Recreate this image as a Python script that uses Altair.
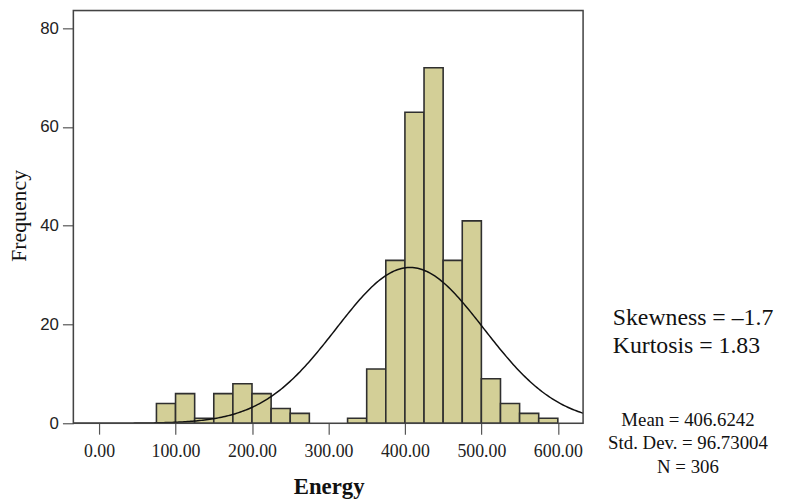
import altair as alt
import numpy as np
import pandas as pd

# Histogram bins (Energy), width 25
bin_start = [75, 100, 125, 150, 175, 200, 225, 250, 275, 300,
             325, 350, 375, 400, 425, 450, 475, 500, 525, 550, 575]
counts = [4, 6, 1, 6, 8, 6, 3, 2, 0, 0,
          1, 11, 33, 63, 72, 33, 41, 9, 4, 2, 1]
BIN_WIDTH = 25

MEAN = 406.6242
SD = 96.73004
N = 306

x_ticks = [0, 100, 200, 300, 400, 500, 600]
y_ticks = [0, 20, 40, 60, 80]

stats_big = ["Skewness = \u20131.7", "Kurtosis = 1.83"]
stats_small = [f"Mean = {MEAN}", f"Std. Dev. = {SD:.5f}", f"N = {N}"]

X_DOMAIN = [-33.7, 633]
Y_DOMAIN = [0, 83.6]
W, H = 515, 417

bars_df = pd.DataFrame({
    "start": bin_start,
    "end": [b + BIN_WIDTH for b in bin_start],
    "count": counts,
})
bars_df = bars_df[bars_df["count"] > 0]

# fitted normal curve from the stated mean / sd / N
xs = np.linspace(X_DOMAIN[0], X_DOMAIN[1], 300)
ys = N * BIN_WIDTH / (SD * np.sqrt(2 * np.pi)) * np.exp(-0.5 * ((xs - MEAN) / SD) ** 2)
curve_df = pd.DataFrame({"x": xs, "y": ys})

x_scale = alt.Scale(domain=X_DOMAIN, nice=False, zero=False)
y_scale = alt.Scale(domain=Y_DOMAIN, nice=False)

x_axis = alt.Axis(
    values=x_ticks, format=".2f", title="Energy", grid=False, domain=False,
    tickSize=11, tickColor="#555", tickWidth=1.2,
    labelFont="Liberation Serif", labelFontSize=18, labelColor="#222", labelPadding=9,
    titleFont="Liberation Serif", titleFontSize=23, titleFontWeight="bold", titleColor="#111",
    titleX=258, titleY=71, titleBaseline="alphabetic", titleAlign="center",
)
y_axis = alt.Axis(
    values=y_ticks, title="Frequency", grid=False, domain=False,
    tickSize=11, tickColor="#555", tickWidth=1.2,
    labelFont="Liberation Sans", labelFontSize=17, labelColor="#222", labelPadding=4,
    titleFont="Liberation Serif", titleFontSize=22, titleFontWeight="normal", titleColor="#111",
    titleX=-55, titleY=207, titleAngle=-90, titleAlign="center", titleBaseline="middle",
)

bars = alt.Chart(bars_df).mark_rect(
    fill="#d3cf97", stroke="#2f2f2f", strokeWidth=1.6
).encode(
    x=alt.X("start:Q", scale=x_scale, axis=x_axis),
    x2="end:Q",
    y=alt.Y("count:Q", scale=y_scale, axis=y_axis),
    y2=alt.datum(0),
)

curve = alt.Chart(curve_df).mark_line(color="#111", strokeWidth=1.5, clip=True).encode(
    x=alt.X("x:Q", scale=x_scale),
    y=alt.Y("y:Q", scale=y_scale),
)

border = alt.Chart(pd.DataFrame({"t": [0]})).mark_rect(
    fill=None, stroke="#444", strokeWidth=1.5
).encode(x=alt.value(0), x2=alt.value(W), y=alt.value(0), y2=alt.value(H))

layers = [bars, curve, border]
big_y = [311, 339]
for txt, yy in zip(stats_big, big_y):
    layers.append(
        alt.Chart(pd.DataFrame({"t": [txt]})).mark_text(
            font="Liberation Serif", fontSize=24, align="left", baseline="middle", color="#111"
        ).encode(text="t:N", x=alt.value(545), y=alt.value(yy))
    )
small_y = [414, 437, 461]
for txt, yy in zip(stats_small, small_y):
    layers.append(
        alt.Chart(pd.DataFrame({"t": [txt]})).mark_text(
            font="Liberation Serif", fontSize=19, align="center", baseline="middle", color="#111"
        ).encode(text="t:N", x=alt.value(621), y=alt.value(yy))
    )

chart = alt.layer(*layers).properties(
    width=W, height=H,
    autosize=alt.AutoSizeParams(type="none"),
    padding={"left": 66, "top": 0, "right": 202, "bottom": 77},
).configure_view(
    fill="#f3f3f3", stroke=None
).configure(background="white")

chart.save("out.html", embed_options={"renderer": "svg", "actions": False})
